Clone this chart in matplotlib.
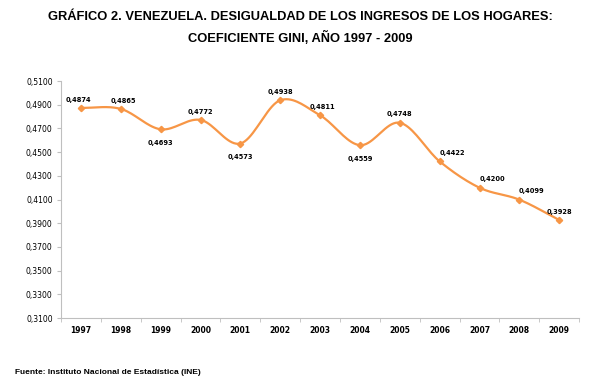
import matplotlib
matplotlib.use("Agg")
import matplotlib.pyplot as plt
import numpy as np
from matplotlib.ticker import FixedLocator
from matplotlib import font_manager

years = ["1997", "1998", "1999", "2000", "2001", "2002", "2003",
         "2004", "2005", "2006", "2007", "2008", "2009"]
gini = [0.4874, 0.4865, 0.4693, 0.4772, 0.4573, 0.4938, 0.4811,
        0.4559, 0.4748, 0.4422, 0.4200, 0.4099, 0.3928]
yticks = [0.31, 0.33, 0.35, 0.37, 0.39, 0.41, 0.43, 0.45, 0.47, 0.49, 0.51]

orange = "#F79646"

# smoothed line, Excel style (catmull-rom)
def smooth(x, y, n=20):
    x = np.asarray(x, float)
    y = np.asarray(y, float)
    px = np.concatenate([[2 * x[0] - x[1]], x, [2 * x[-1] - x[-2]]])
    py = np.concatenate([[2 * y[0] - y[1]], y, [2 * y[-1] - y[-2]]])
    xs, ys = [], []
    t = np.linspace(0, 1, n)
    for i in range(1, len(px) - 2):
        for p, out in ((px, xs), (py, ys)):
            p0, p1, p2, p3 = p[i - 1], p[i], p[i + 1], p[i + 2]
            out.extend(0.5 * ((2 * p1) + (-p0 + p2) * t
                              + (2 * p0 - 5 * p1 + 4 * p2 - p3) * t ** 2
                              + (-p0 + 3 * p1 - 3 * p2 + p3) * t ** 3))
    return xs, ys

names = {f.name for f in font_manager.fontManager.ttflist}
title_font = "Liberation Sans Narrow" if "Liberation Sans Narrow" in names else "Liberation Sans"

x = np.arange(len(years))

fig = plt.figure(figsize=(5.94, 3.86), dpi=100)
ax = fig.add_axes([0.1027, 0.176, 0.8723, 0.614])

sx, sy = smooth(x, gini)
ax.plot(sx, sy, color=orange, lw=1.6)
ax.plot(x, gini, ls="none", marker="D", ms=3.2, color=orange)

ax.set_xlim(-0.5, len(years) - 0.5)
ax.set_ylim(0.31, 0.51)
ax.set_yticks(yticks)
ax.set_yticklabels([("%.4f" % v).replace(".", ",") for v in yticks],
                   fontsize=5.5, family="DejaVu Sans")
ax.set_xticks(x)
ax.set_xticklabels(years, fontsize=5.5, fontweight="bold")
ax.xaxis.set_major_locator(FixedLocator(x))
ax.tick_params(axis="x", length=0, pad=6)
ax.xaxis.set_minor_locator(FixedLocator(np.arange(-0.5, len(years), 1)))
ax.tick_params(axis="x", which="minor", length=3, color="#BFBFBF")
ax.tick_params(axis="y", length=3, color="#BFBFBF", pad=3)

for s in ["top", "right"]:
    ax.spines[s].set_visible(False)
for s in ["left", "bottom"]:
    ax.spines[s].set_color("#BFBFBF")
    ax.spines[s].set_linewidth(0.8)

# label offsets (points)
offs = [(-2, 6), (2, 6), (0, -10), (0, 6), (0, -10), (0, 6), (2, 6),
        (0, -10), (0, 6), (9, 6), (9, 6), (9, 6), (0, 6)]
for xi, v, (dx, dy) in zip(x, gini, offs):
    ax.annotate(("%.4f" % v).replace(".", ","), (xi, v), xytext=(dx, dy),
                textcoords="offset points", ha="center", va="center",
                fontsize=4.8, fontweight="bold")

t1 = fig.text(0.505, 0.955, "GRÁFICO 2. VENEZUELA. DESIGUALDAD DE LOS INGRESOS DE LOS HOGARES:",
              ha="center", va="center", fontsize=10, fontweight="bold",
              family=[title_font, "DejaVu Sans"])
t2 = fig.text(0.505, 0.902, "COEFICIENTE GINI, AÑO 1997 - 2009",
              ha="center", va="center", fontsize=10, fontweight="bold",
              family=[title_font, "DejaVu Sans"])
# fit the title width to the reference (~504 px)
r = fig.canvas.get_renderer()
w = t1.get_window_extent(r).width
if w > 504:
    sc = 504 / w
    t1.set_fontsize(10 * sc)
    t2.set_fontsize(10 * sc)

fig.text(0.025, 0.036, "Fuente: Instituto Nacional de Estadística (INE)",
         ha="left", va="center", fontsize=6, fontweight="bold",
         family=["Liberation Sans", "DejaVu Sans"])

fig.savefig("out.png", dpi=100)
